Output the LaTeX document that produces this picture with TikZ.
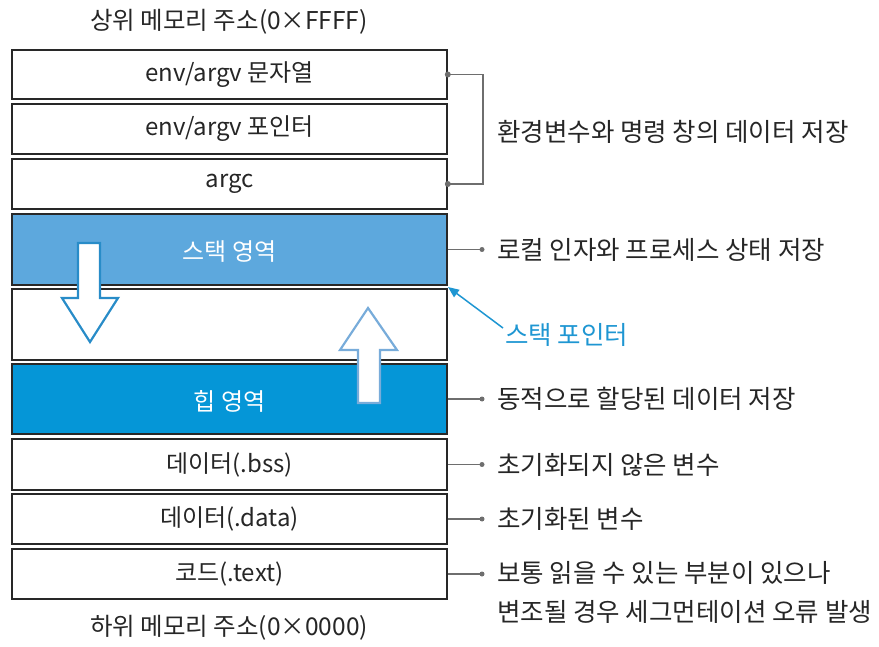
\documentclass[tikz,border=0pt]{standalone}
\usepackage{fontspec}
\setmainfont{Noto Sans CJK KR}
\usetikzlibrary{arrows.meta}
\definecolor{stackblue}{RGB}{93,168,221}
\definecolor{heapblue}{RGB}{5,150,215}
\definecolor{ptrblue}{RGB}{30,150,210}
\definecolor{linegray}{RGB}{110,110,110}
\definecolor{boxline}{RGB}{40,40,40}
\definecolor{downblue}{RGB}{40,140,200}
\definecolor{upblue}{RGB}{120,172,218}
\tikzset{
  membox/.style={draw=boxline, line width=1.6pt, minimum width=435pt, inner sep=0pt, font=\fontsize{24}{28}\selectfont, text=black!85},
  lbl/.style={anchor=west, inner sep=0pt, font=\fontsize{25.5}{30}\selectfont, text=black!85},
  conn/.style={draw=linegray, line width=1.3pt},
  dot/.style={circle, fill=linegray, inner sep=0pt, minimum size=6pt},
  bigarrow/.style={fill=white, line width=2.2pt, line join=miter},
}
\begin{document}
\begin{tikzpicture}[x=1pt,y=-1pt]
\useasboundingbox (0,0) rectangle (879,647);
% memory boxes
\node[membox, minimum height=49pt] (b1) at (229.5,74.5) {env/argv 문자열};
\node[membox, minimum height=50pt] (b2) at (229.5,129) {env/argv 포인터};
\node[membox, minimum height=50pt] (b3) at (229.5,184) {argc};
\node[membox, minimum height=71pt, fill=stackblue] (b4) at (229.5,249.5) {};
\node[membox, minimum height=71pt] (b5) at (229.5,324.5) {};
\node[membox, minimum height=70pt, fill=heapblue] (b6) at (229.5,399) {};
\node[membox, minimum height=51pt] (b7) at (229.5,464.5) {데이터(.bss)};
\node[membox, minimum height=50pt] (b8) at (229.5,519) {데이터(.data)};
\node[membox, minimum height=50pt] (b9) at (229.5,574) {코드(.text)};
\node[font=\fontsize{24}{28}\selectfont, text=white] (t4) at (229.5,252) {스택 영역};
\node[font=\fontsize{24}{28}\selectfont, text=white] (t6) at (229.5,401) {힙 영역};
% growth arrows
\draw[bigarrow, draw=downblue] (78,243) -- (100,243) -- (100,298) -- (118,298) -- (90,342) -- (62,298) -- (78,298) -- cycle;
\draw[bigarrow, draw=upblue] (358,403) -- (380,403) -- (380,350) -- (397,350) -- (368,308) -- (340,350) -- (358,350) -- cycle;
% top and bottom labels
\node[font=\fontsize{24.5}{28}\selectfont, text=black!85] (top) at (229,22) {상위 메모리 주소(0×FFFF)};
\node[font=\fontsize{24.5}{28}\selectfont, text=black!85] (bot) at (229,628) {하위 메모리 주소(0×0000)};
% bracket for env area
\coordinate (br1) at (483,74.5);
\coordinate (br3) at (483,184);
\draw[conn] (b1.east) -- (br1) -- (br3) -- (b3.east);
\node[dot] at (b1.east) {};
\node[dot] at (b3.east) {};
\node[lbl] (l1) at (497,132) {환경변수와 명령 창의 데이터 저장};
% other labels
\node[lbl] (l4) at (497,249.5) {로컬 인자와 프로세스 상태 저장};
\node[lbl] (l6) at (497,399) {동적으로 할당된 데이터 저장};
\node[lbl] (l7) at (497,464.5) {초기화되지 않은 변수};
\node[lbl] (l8) at (497,519) {초기화된 변수};
\node[lbl, align=left, font=\fontsize{25.5}{39}\selectfont] (l9) at (497,592.5) {보통 읽을 수 있는 부분이 있으나\\변조될 경우 세그먼테이션 오류 발생};
\foreach \b/\y in {b4/249.5, b6/399, b7/464.5, b8/519, b9/574}{
  \draw[conn] (\b.east) -- (482,\y);
  \node[dot, minimum size=5pt] at (482,\y) {};
}
% stack pointer
\coordinate (sp) at (448,287);
\node[lbl, text=ptrblue] (spl) at (505,335) {스택 포인터};
\draw[draw=ptrblue, line width=1.5pt, -{Triangle[length=11pt,width=9pt]}] ([shift={(-2,-7)}]spl.west) -- (sp);
\end{tikzpicture}
\end{document}
